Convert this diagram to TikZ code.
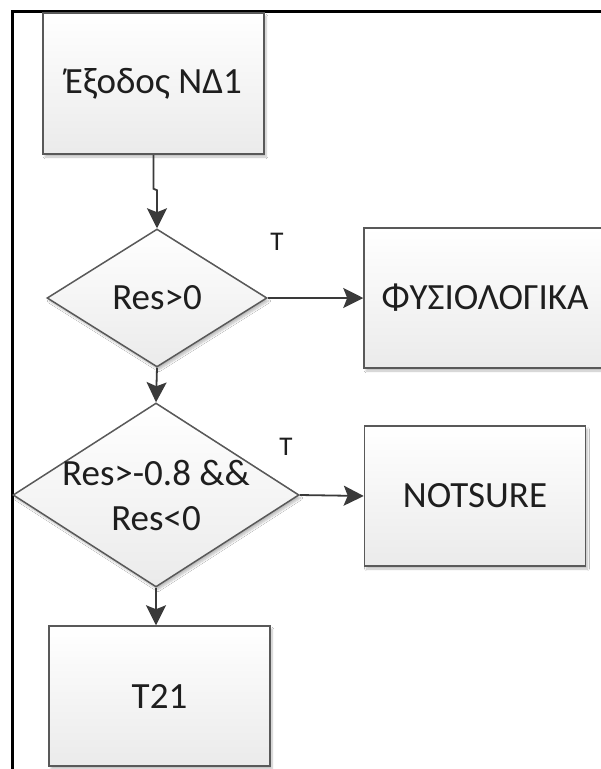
\documentclass[tikz,border=0pt]{standalone}
\usepackage{fontspec}
\setmainfont{Carlito}
\usetikzlibrary{shapes.geometric,arrows.meta,shadows.blur,calc}

\definecolor{edgegrey}{HTML}{595959}
\definecolor{linegrey}{HTML}{3A3A3A}
\definecolor{inkgrey}{HTML}{1E1E1E}

\tikzset{
  shapefill/.style={top color=white, bottom color=black!8, draw=edgegrey, line width=1.5pt,
    blur shadow={shadow xshift=2pt, shadow yshift=-3pt, shadow blur steps=6, shadow opacity=25}},
  procbox/.style={shapefill, rectangle, inner sep=0pt, text=inkgrey,
    font=\fontsize{37}{40}\selectfont},
  decision/.style={shapefill, diamond, inner sep=0pt},
  decisiontext/.style={text=inkgrey, font=\fontsize{37}{45}\selectfont, align=center},
  flow/.style={draw=linegrey, line width=1.8pt, -{Stealth[length=20pt,width=20pt,inset=4pt]}},
  branchmark/.style={text=inkgrey, font=\fontsize{27}{28}\selectfont},
}

\begin{document}
\begin{tikzpicture}[x=1pt,y=-1pt]
  \useasboundingbox (0,0) rectangle (601,769);
  \fill[white] (0,0) rectangle (601,769);

  % frame along the top and left edges
  \draw[line width=3pt, line cap=rect] (12,769) -- (12,11.5) -- (601,11.5);

  % process boxes
  \node[procbox, minimum width=221pt, minimum height=141pt] (start) at (153.5,83.5) {Έξοδος ΝΔ1};
  \node[procbox, minimum width=242pt, minimum height=140pt] (normal) at (485,298) {ΦΥΣΙΟΛΟΓΙΚΑ};
  \node[procbox, minimum width=221pt, minimum height=140pt] (unsure) at (475,496) {NOTSURE};
  \node[procbox, minimum width=221pt, minimum height=140pt] (t21) at (159.5,696) {T21};

  % decisions
  \node[decision, minimum width=220pt, minimum height=138pt,
        label={[decisiontext]center:Res>0}] (dec1) at (157,298) {};
  \node[decision, minimum width=286pt, minimum height=184pt,
        label={[decisiontext]center:Res>-0.8 \&\&\\Res<0}] (dec2) at (156,495) {};

  % connectors
  \draw[flow] (start.south) -- ++(0,34) -- ($(dec1.north)+(0,-38)$) -- (dec1.north);
  \draw[flow] (dec1.east) -- (normal.west);
  \draw[flow] (dec1.south) -- (dec2.north);
  \draw[flow] (dec2.east) -- (unsure.west);
  \draw[flow] (dec2.south) -- (dec2.south |- t21.north);

  % branch labels
  \node[branchmark] (yes1) at (277,242) {T};
  \node[branchmark] (yes2) at (286,447) {T};
\end{tikzpicture}
\end{document}
